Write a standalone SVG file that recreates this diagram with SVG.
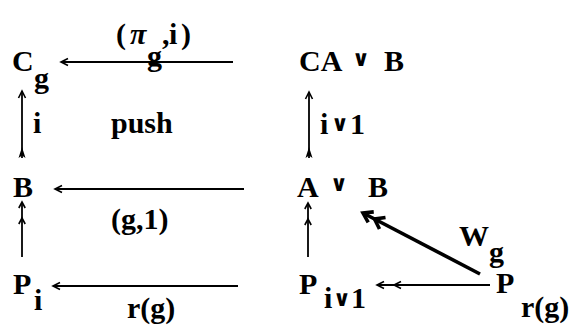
<svg xmlns="http://www.w3.org/2000/svg" width="572" height="331" viewBox="0 0 572 331">
<style>
text{font-family:'Liberation Serif','DejaVu Serif',serif;font-weight:700;font-size:30px;fill:#000}
text.v{font-family:'DejaVu Sans',sans-serif;font-weight:700;font-size:22px}
.pi{font-style:italic}
.ln{stroke:#000;stroke-width:1.8;fill:none}
.thick{stroke:#000;stroke-width:3.6;fill:none}
</style>
<defs>
<marker id="head" markerUnits="userSpaceOnUse" orient="auto" overflow="visible" markerWidth="1" markerHeight="1" refX="0" refY="0">
<path d="M-7,-3.5 L0,0 L-7,3.5" fill="none" stroke="#000" stroke-width="1.6"/>
</marker>
<marker id="head2" markerUnits="userSpaceOnUse" orient="auto" overflow="visible" markerWidth="1" markerHeight="1" refX="0" refY="0">
<path d="M-7,-3.5 L0,0 L-7,3.5 M-24,-3.5 L-17,0 L-24,3.5" fill="none" stroke="#000" stroke-width="1.6"/>
</marker>
<marker id="head2v" markerUnits="userSpaceOnUse" orient="auto" overflow="visible" markerWidth="1" markerHeight="1" refX="0" refY="0">
<path d="M-6,-3.2 L0,0 L-6,3.2 M-22,-3.2 L-16,0 L-22,3.2" fill="none" stroke="#000" stroke-width="1.6"/>
</marker>
<marker id="tail" markerUnits="userSpaceOnUse" orient="auto" overflow="visible" markerWidth="1" markerHeight="1" refX="0" refY="0">
<path d="M0,-3.5 L11,0 L0,3.5 L2.5,0 Z" fill="#000"/>
</marker>
<marker id="headThick" markerUnits="userSpaceOnUse" orient="auto" overflow="visible" markerWidth="1" markerHeight="1" refX="0" refY="0">
<path d="M-9,-6 L0,0 L-9,6 M-22,-6.5 L-13,0 L-22,6.5" fill="none" stroke="#000" stroke-width="3.6" stroke-linejoin="miter"/>
</marker>
</defs>

<g id="connectors">
<line class="ln" x1="233" y1="62" x2="61" y2="62" marker-end="url(#head)"/>
<line class="ln" x1="22" y1="158" x2="22" y2="91" marker-start="url(#tail)" marker-end="url(#head)"/>
<line class="ln" x1="244" y1="189" x2="55" y2="189" marker-end="url(#head)"/>
<line class="ln" x1="22" y1="257" x2="22" y2="202" marker-end="url(#head2v)"/>
<line class="ln" x1="238" y1="286" x2="53" y2="286" marker-end="url(#head)"/>
<line class="ln" x1="309" y1="158" x2="309" y2="92" marker-start="url(#tail)" marker-end="url(#head)"/>
<line class="ln" x1="308" y1="257" x2="308" y2="203" marker-end="url(#head2v)"/>
<line class="ln" x1="490" y1="285" x2="377" y2="285" marker-end="url(#head2)"/>
<line class="thick" x1="480" y1="274" x2="363" y2="213" marker-end="url(#headThick)"/>
<g id="edge-labels">
<text><tspan x="116" y="44">(</tspan><tspan class="pi" x="130" y="44">π</tspan><tspan x="147" y="66">g</tspan><tspan x="162" y="44">,</tspan><tspan x="169" y="44">i</tspan><tspan x="181" y="44">)</tspan></text>
<text x="33" y="133">i</text>
<text x="111" y="133">push</text>
<text x="111" y="229">(g,1)</text>
<text x="127" y="318">r(g)</text>
<text x="320" y="134">i</text>
<text class="v" x="331" y="131">∨</text>
<text x="350" y="134">1</text>
<text x="459" y="246">W</text>
<text x="489" y="262">g</text>
</g>
</g>

<g id="node-Cg">
<text x="12" y="71">C</text>
<text x="34" y="88">g</text>
</g>
<g id="node-B">
<text x="13" y="197">B</text>
</g>
<g id="node-Pi">
<text x="13" y="294">P</text>
<text x="34" y="310">i</text>
</g>
<g id="node-CAvB">
<text x="299" y="71">CA</text>
<text class="v" x="352" y="66">∨</text>
<text x="384" y="71">B</text>
</g>
<g id="node-AvB">
<text x="297" y="197">A</text>
<text class="v" x="330" y="191">∨</text>
<text x="368" y="197">B</text>
</g>
<g id="node-Piv1">
<text x="299" y="294">P</text>
<text x="324" y="308">i</text>
<text class="v" x="333" y="306">∨</text>
<text x="351" y="308">1</text>
</g>
<g id="node-Prg">
<text x="496" y="293">P</text>
<text x="521" y="317">r(g)</text>
</g>
</svg>
